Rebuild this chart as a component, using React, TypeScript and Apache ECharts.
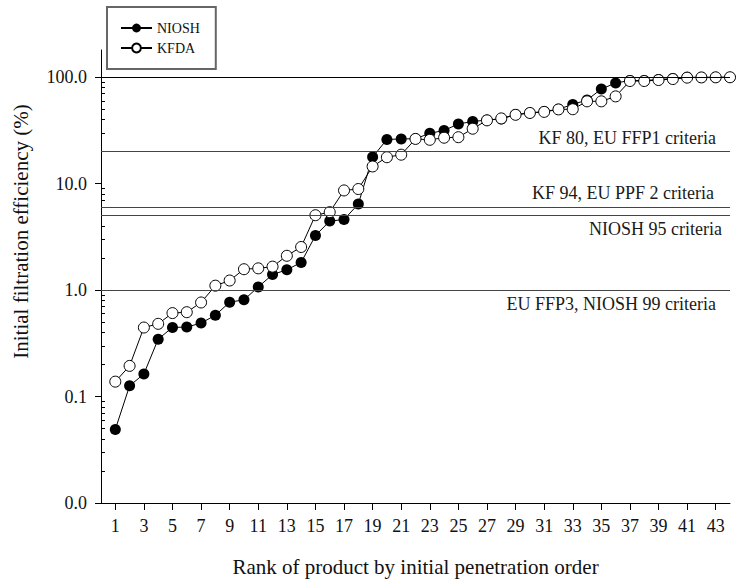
import React, { useEffect, useRef } from 'react';
import * as echarts from 'echarts';

const RANKS = [1, 2, 3, 4, 5, 6, 7, 8, 9, 10, 11, 12, 13, 14, 15, 16, 17, 18, 19, 20, 21, 22, 23, 24, 25, 26, 27, 28, 29, 30, 31, 32, 33, 34, 35, 36, 37, 38, 39, 40, 41, 42, 43, 44];
const NIOSH = [0.049, 0.126, 0.163, 0.346, 0.446, 0.449, 0.49, 0.58, 0.77, 0.81, 1.07, 1.4, 1.55, 1.82, 3.25, 4.45, 4.6, 6.43, 17.8, 26, 26.3, 26.4, 29.7, 31.6, 36.3, 38.4, 39.5, 40.5, 44.5, 46.2, 47.5, 50, 55.5, 61, 77.4, 88.2, 93, 93, 95, 97, 100, 99.5, 99.7, 99.8];
const KFDA = [0.138, 0.194, 0.445, 0.482, 0.608, 0.62, 0.765, 1.1, 1.23, 1.57, 1.6, 1.66, 2.1, 2.54, 5.05, 5.4, 8.63, 8.9, 14.5, 17.7, 18.7, 26.3, 25.8, 27, 27.3, 32.8, 39.3, 41, 44.3, 46.1, 47.2, 49.8, 50, 59.3, 59.3, 66, 92, 92, 94, 96, 99, 99.5, 99.7, 99.8];
const X_TICKS = [1, 3, 5, 7, 9, 11, 13, 15, 17, 19, 21, 23, 25, 27, 29, 31, 33, 35, 37, 39, 41, 43];
const Y_MAJOR = [0.01, 0.1, 1, 10, 100];
const Y_MINOR = [0.02, 0.03, 0.04, 0.05, 0.06, 0.07, 0.08, 0.09, 0.2, 0.3, 0.4, 0.5, 0.6, 0.7, 0.8, 0.9, 2, 3, 4, 5, 6, 7, 8, 9, 20, 30, 40, 50, 60, 70, 80, 90];
const CRITERIA_VALUES = [100, 20, 6, 5, 1];
const CRITERIA_LABELS = ['', 'KF 80, EU FFP1 criteria', 'KF 94, EU PPF 2 criteria', 'NIOSH 95 criteria', 'EU FFP3, NIOSH 99 criteria'];

const FONT = "'Liberation Serif', 'Times New Roman', serif";
const Y_MIN = 0.01;
const Y_MAX = 180;

export default function App() {
  const ref = useRef<HTMLDivElement>(null);
  useEffect(() => {
    if (!ref.current) return;
    const chart = echarts.init(ref.current, undefined, { renderer: 'svg' });
    const labelPos = ['insideEndTop', 'insideEndTop', 'insideEndTop', 'insideEndBottom', 'insideEndBottom'];
    const labelDist = [[14, 5], [14, 5], [16, 5], [8, 4], [14, 5]];
    chart.setOption({
      animation: false,
      backgroundColor: '#fff',
      textStyle: { fontFamily: FONT },
      grid: { left: 101, right: 7, top: 50, bottom: 79, containLabel: false },
      legend: {
        data: ['NIOSH', 'KFDA'],
        orient: 'vertical',
        left: 107,
        top: 7,
        padding: [14, 16, 14, 13],
        itemWidth: 31,
        itemHeight: 11,
        itemGap: 6,
        borderColor: '#666',
        borderWidth: 2,
        textStyle: { fontFamily: FONT, fontSize: 14, color: '#111' },
      },
      xAxis: {
        type: 'value',
        min: 0,
        max: 44,
        name: 'Rank of product by initial penetration order',
        nameLocation: 'middle',
        nameGap: 53,
        nameTextStyle: { fontFamily: FONT, fontSize: 21, color: '#111' },
        axisLine: { show: true, lineStyle: { color: '#000', width: 1 } },
        axisTick: { show: true, inside: false, length: 7, customValues: X_TICKS, lineStyle: { color: '#000' } },
        axisLabel: { customValues: X_TICKS, margin: 14, fontFamily: FONT, fontSize: 18, color: '#111' },
        splitLine: { show: false },
      },
      yAxis: [
        {
          type: 'log',
          logBase: 10,
          min: Y_MIN,
          max: Y_MAX,
          name: 'Initial filtration efficiency (%)',
          nameLocation: 'middle',
          nameGap: 70,
          nameTextStyle: { fontFamily: FONT, fontSize: 21, color: '#111', padding: [0, 0, 0, 90] },
          axisLine: { show: true, lineStyle: { color: '#000', width: 1 } },
          axisTick: { show: true, inside: false, length: 6, customValues: Y_MAJOR, lineStyle: { color: '#000' } },
          axisLabel: {
            customValues: Y_MAJOR,
            margin: 14,
            fontFamily: FONT,
            fontSize: 18,
            color: '#111',
            formatter: (v: number) => Number(v).toFixed(1),
          },
          splitLine: { show: false },
        },
        {
          type: 'log',
          logBase: 10,
          min: Y_MIN,
          max: Y_MAX,
          position: 'left',
          axisLine: { show: false },
          axisTick: { show: true, inside: true, length: 4, customValues: Y_MINOR, lineStyle: { color: '#000' } },
          axisLabel: { show: false, customValues: Y_MINOR },
          splitLine: { show: false },
        },
      ],
      series: [
        {
          type: 'line',
          data: [],
          z: 1,
          silent: true,
          markLine: {
            silent: true,
            symbol: ['none', 'none'],
            animation: false,
            data: CRITERIA_VALUES.map((v, i) => ({
              yAxis: v,
              lineStyle: { color: i === 0 ? '#000' : '#444', width: 1, type: 'solid' },
              label: {
                show: CRITERIA_LABELS[i] !== '',
                formatter: CRITERIA_LABELS[i],
                position: labelPos[i],
                distance: labelDist[i],
                fontFamily: FONT,
                fontSize: 18,
                color: '#1a1a1a',
              },
            })),
          },
        },
        {
          name: 'NIOSH',
          type: 'line',
          z: 3,
          data: RANKS.map((r, i) => [r, NIOSH[i]]),
          symbol: 'circle',
          symbolSize: 11,
          itemStyle: { color: '#000' },
          lineStyle: { color: '#000', width: 1 },
        },
        {
          name: 'KFDA',
          type: 'line',
          z: 4,
          data: RANKS.map((r, i) => [r, KFDA[i]]),
          symbol: 'circle',
          symbolSize: 11,
          itemStyle: { color: '#fff', borderColor: '#000', borderWidth: 1 },
          lineStyle: { color: '#000', width: 1 },
        },
      ],
    });
    return () => chart.dispose();
  }, []);
  return <div ref={ref} style={{ position: 'fixed', left: 0, top: 0, width: 737, height: 582, background: '#fff' }} />;
}
